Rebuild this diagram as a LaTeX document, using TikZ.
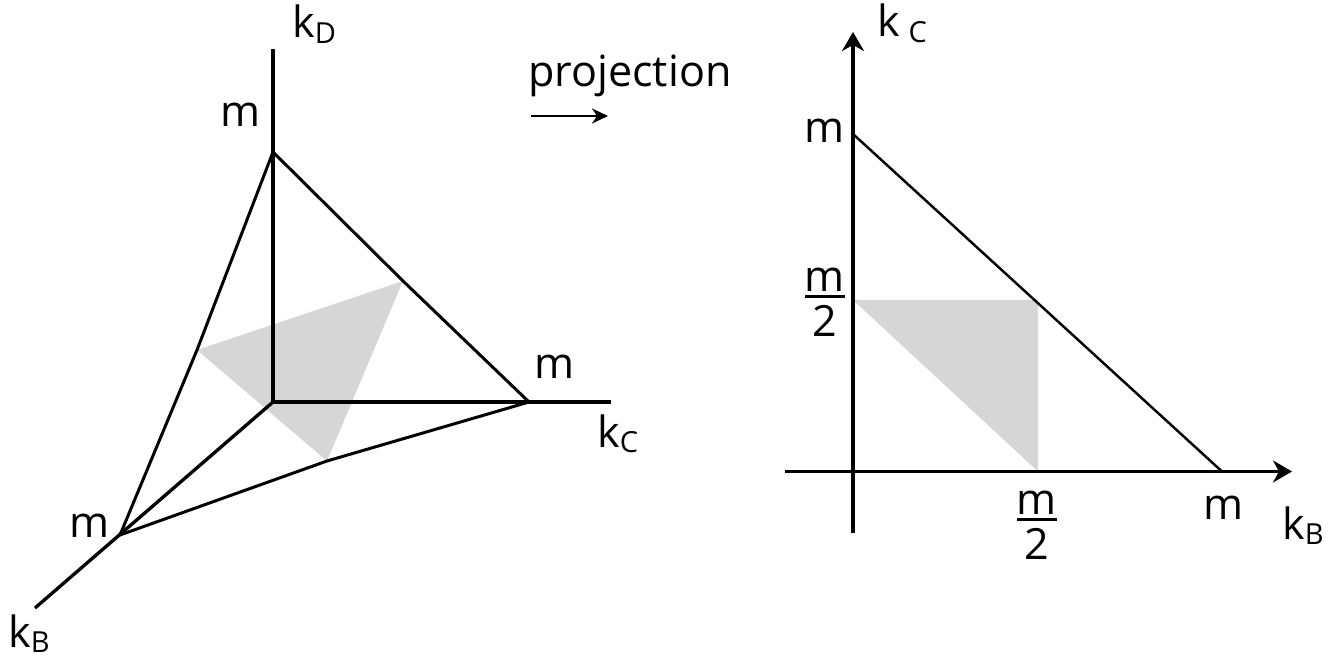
\documentclass[tikz,border=0pt]{standalone}
\usepackage{fontspec}
\setmainfont{Open Sans}
\usepackage{xcolor}
\usepackage{tikz}
\usetikzlibrary{arrows.meta}

\definecolor{facegray}{gray}{0.84}
\newcommand{\ksub}[2]{#1\raisebox{-3pt}{\fontsize{16.5}{17}\selectfont #2}}
\newcommand{\mhalf}{\vbox{\halign{\hfil##\hfil\cr m\cr\noalign{\vskip2pt\hrule height1.7pt\vskip4pt}2\cr}}}

\begin{document}
\begin{tikzpicture}[
    x=0.02cm,
    y=-0.02cm,
    >={Stealth[length=0.38cm,width=0.44cm,inset=0.12cm]},
    edge/.style={line width=1.7pt, line join=miter},
    axis/.style={line width=1.9pt},
    lab/.style={font=\fontsize{24.5}{29}\selectfont, inner sep=0pt}
]
\useasboundingbox (0,0) rectangle (1336,662);

\coordinate (O) at (273,402);
\coordinate (endD) at (273,49);
\coordinate (endC) at (611,402);
\coordinate (endB) at (35,608);
\coordinate (mD) at (273,152);
\coordinate (mC) at (529,402);
\coordinate (mB) at (120,535);
\coordinate (gD) at (197,350);
\coordinate (gC) at (403,281);
\coordinate (gB) at (327,461);

\fill[facegray] (gD) -- (gC) -- (gB) -- cycle;
\draw[axis] (endD) -- (O) -- (endC);
\draw[axis] (O) -- (endB);
\draw[edge] (mD) -- (gD) -- (mB) -- (gB) -- (mC) -- (gC) -- cycle;

\node[lab, anchor=base west] (labD) at (292,38) {\ksub{k}{D}};
\node[lab, anchor=base] (labmD) at (241,127) {m};
\node[lab, anchor=base] (labmC) at (555,378) {m};
\node[lab, anchor=base west] (labC) at (597,447) {\ksub{k}{C}};
\node[lab, anchor=base] (labmB) at (90,537) {m};
\node[lab, anchor=base west] (labB) at (8,647) {\ksub{k}{B}};

\node[lab, anchor=base west] (proj) at (528,87) {projection};
\coordinate (pa) at (531,116);
\coordinate (pb) at (608,116);
\draw[-{Stealth[length=0.32cm,width=0.3cm,inset=0.1cm]}, line width=1.6pt] (pa) -- (pb);

\coordinate (Q) at (853,471.5);
\coordinate (botV) at (853,533);
\coordinate (topV) at (853,32);
\coordinate (leftH) at (785,471.5);
\coordinate (rightH) at (1292,471.5);
\coordinate (mV) at (853,134);
\coordinate (mH) at (1222,471.5);
\coordinate (hV) at (853,300);
\coordinate (hX) at (1038,300);
\coordinate (hH) at (1038,471.5);

\fill[facegray] (hV) -- (hX) -- (hH) -- cycle;
\draw[axis, ->] (botV) -- (topV);
\draw[axis, ->] (leftH) -- (rightH);
\draw[line width=1.4pt] (mV) -- (mH);

\node[lab, anchor=base west] (labCr) at (877,37) {\ksub{k}{\hspace{5pt}C}};
\node[lab, anchor=base east] (labmV) at (845,143) {m};
\node[lab] (labhV) at (825,302.5) {\mhalf};
\node[lab] (labhH) at (1037,525) {\mhalf};
\node[lab, anchor=base] (labmH) at (1224,519) {m};
\node[lab, anchor=base west] (labBr) at (1282,539) {\ksub{k}{B}};
\end{tikzpicture}
\end{document}
